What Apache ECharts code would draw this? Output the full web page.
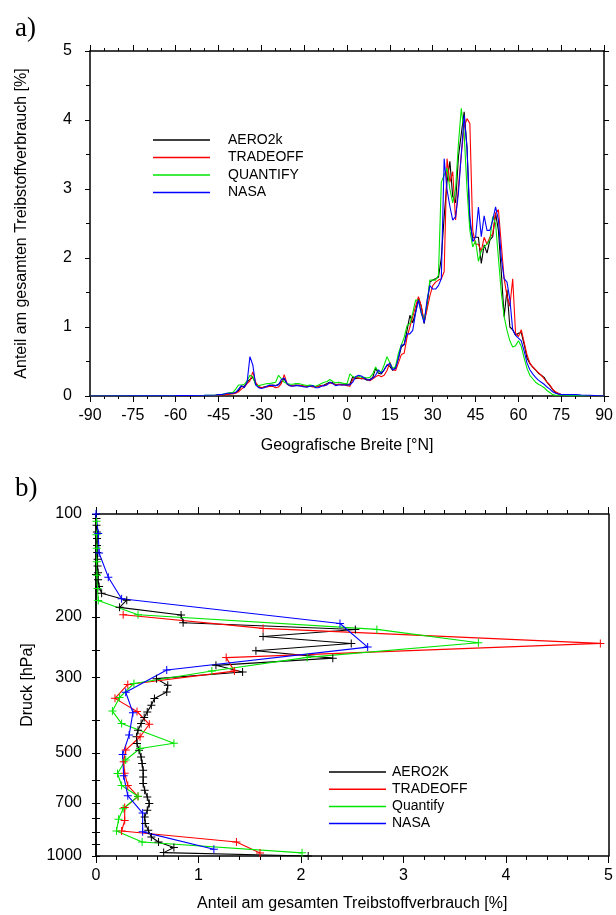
<!DOCTYPE html>
<html><head><meta charset="utf-8">
<script src="https://cdn.jsdelivr.net/npm/echarts@6/dist/echarts.min.js"></script>
<style>html,body{margin:0;padding:0;background:#fff}#c{width:616px;height:915px}</style>
</head><body><div id="c"></div>
<script>
// ---------- Panel a: fuel share by latitude ----------
const latitudes = [-90, -75, -60, -50, -46,
  -45, -44, -43, -42, -41, -40, -39, -38, -37, -36,
  -35, -34, -33, -32, -31, -30, -29, -28, -27, -26,
  -25, -24, -23, -22, -21, -20, -19, -18, -17, -16,
  -15, -14, -13, -12, -11, -10, -9, -8, -7, -6,
  -5, -4, -3, -2, -1, 0, 1, 2, 3, 4,
  5, 6, 7, 8, 9, 10, 11, 12, 13, 14,
  15, 16, 17, 18, 19, 20, 21, 22, 23, 24,
  25, 26, 27, 28, 29, 30, 31, 32, 33, 34,
  35, 36, 37, 38, 39, 40, 41, 42, 43, 44,
  45, 46, 47, 48, 49, 50, 51, 52, 53, 54,
  55, 56, 57, 58, 59, 60, 61, 62, 63, 64,
  65, 66, 67, 68, 69, 70, 71, 72, 73, 74,
  75, 76, 78, 80, 82, 85, 90];

const aero2kLatValues = [0, 0.003, 0.005, 0.008, 0.01,
  0.015, 0.02, 0.02, 0.03, 0.03, 0.04, 0.05, 0.08, 0.14, 0.14,
  0.2, 0.24, 0.27, 0.18, 0.13, 0.12, 0.13, 0.14, 0.15, 0.16,
  0.15, 0.17, 0.2, 0.25, 0.17, 0.15, 0.15, 0.16, 0.15, 0.15,
  0.14, 0.13, 0.15, 0.14, 0.13, 0.14, 0.15, 0.16, 0.18, 0.2,
  0.19, 0.16, 0.17, 0.17, 0.17, 0.17, 0.17, 0.28, 0.25, 0.26,
  0.25, 0.25, 0.23, 0.24, 0.27, 0.4, 0.33, 0.32, 0.38, 0.45,
  0.43, 0.37, 0.42, 0.55, 0.71, 0.75, 0.95, 1.17, 1.06, 1.22,
  1.42, 1.3, 1.05, 1.3, 1.65, 1.68, 1.7, 1.72, 2.0, 2.6,
  3.1, 3.4, 2.89, 2.8, 3.47, 3.8, 4.12, 3.6, 2.5, 2.29,
  2.3, 2.3, 1.92, 2.19, 2.07, 2.26, 2.31, 2.65, 2.4, 1.8,
  1.15, 1.54, 1.0, 0.96, 0.88, 0.91, 0.92, 0.75, 0.55, 0.47,
  0.42, 0.38, 0.33, 0.3, 0.27, 0.2, 0.15, 0.09, 0.05, 0.03,
  0.02, 0.015, 0.01, 0.01, 0.008, 0.005, 0];

const tradeoffLatValues = [0, 0.003, 0.005, 0.008, 0.01,
  0.012, 0.015, 0.02, 0.02, 0.03, 0.03, 0.04, 0.06, 0.1, 0.13,
  0.18, 0.22, 0.35, 0.2, 0.14, 0.12, 0.13, 0.13, 0.14, 0.14,
  0.12, 0.13, 0.18, 0.31, 0.18, 0.15, 0.15, 0.15, 0.16, 0.15,
  0.14, 0.14, 0.14, 0.13, 0.13, 0.14, 0.15, 0.15, 0.17, 0.19,
  0.18, 0.16, 0.17, 0.16, 0.16, 0.15, 0.14, 0.24, 0.27, 0.26,
  0.25, 0.26, 0.24, 0.22, 0.25, 0.28, 0.3, 0.28, 0.3, 0.37,
  0.49, 0.38, 0.37, 0.48, 0.6, 0.62, 0.85, 1.0, 1.15, 1.3,
  1.44, 1.3, 1.08, 1.25, 1.45, 1.6, 1.65, 1.68, 1.7, 1.8,
  3.44, 3.1, 3.25, 2.55, 3.03, 3.5, 3.9, 4.02, 3.95, 2.4,
  2.2, 2.2, 2.1, 2.3, 2.2, 2.3, 2.35, 2.65, 2.7, 2.2,
  1.7, 1.45, 1.3, 1.7, 0.91, 0.86, 0.96, 0.78, 0.6, 0.48,
  0.42, 0.38, 0.34, 0.3, 0.25, 0.2, 0.16, 0.1, 0.06, 0.04,
  0.02, 0.015, 0.01, 0.01, 0.008, 0.005, 0];

const quantifyLatValues = [0, 0.003, 0.005, 0.01, 0.015,
  0.02, 0.02, 0.03, 0.04, 0.05, 0.05, 0.1, 0.16, 0.16, 0.17,
  0.22, 0.3, 0.28, 0.16, 0.15, 0.16, 0.17, 0.18, 0.18, 0.19,
  0.2, 0.3, 0.25, 0.2, 0.18, 0.17, 0.17, 0.18, 0.18, 0.17,
  0.16, 0.15, 0.16, 0.15, 0.14, 0.16, 0.18, 0.2, 0.21, 0.24,
  0.21, 0.19, 0.2, 0.19, 0.18, 0.18, 0.32, 0.28, 0.27, 0.29,
  0.27, 0.27, 0.26, 0.27, 0.32, 0.42, 0.35, 0.35, 0.45, 0.57,
  0.48, 0.4, 0.43, 0.62, 0.74, 0.85, 1.02, 1.05, 1.2, 1.39,
  1.39, 1.2, 1.1, 1.34, 1.68, 1.68, 1.68, 1.75, 3.1, 3.2,
  3.3, 3.0, 2.8, 3.0, 3.66, 4.17, 3.8, 3.0, 2.4, 2.16,
  2.25, 1.95, 2.1, 2.16, 2.2, 2.26, 2.6, 2.5, 2.0, 1.5,
  1.15, 0.95, 0.8, 0.71, 0.73, 0.8, 0.72, 0.55, 0.4, 0.3,
  0.25, 0.2, 0.17, 0.15, 0.12, 0.08, 0.05, 0.02, 0.01, 0.01,
  0.01, 0.01, 0.005, 0.005, 0.005, 0.003, 0];

const nasaLatValues = [0, 0.003, 0.005, 0.01, 0.015,
  0.02, 0.02, 0.03, 0.04, 0.04, 0.04, 0.05, 0.1, 0.15, 0.12,
  0.2, 0.57, 0.45, 0.16, 0.12, 0.11, 0.12, 0.14, 0.16, 0.15,
  0.15, 0.16, 0.24, 0.26, 0.18, 0.15, 0.14, 0.15, 0.15, 0.14,
  0.13, 0.13, 0.14, 0.15, 0.12, 0.12, 0.14, 0.15, 0.16, 0.2,
  0.18, 0.15, 0.16, 0.16, 0.16, 0.16, 0.16, 0.2, 0.28, 0.3,
  0.29, 0.26, 0.24, 0.23, 0.26, 0.3, 0.38, 0.33, 0.38, 0.45,
  0.47, 0.38, 0.4, 0.55, 0.74, 0.74, 0.9, 0.9, 0.95, 1.2,
  1.39, 1.2, 1.06, 1.39, 1.6, 1.55, 1.55, 1.6, 1.7, 3.44,
  2.99, 2.75, 2.55, 2.6, 2.94, 3.5, 4.07, 3.6, 2.6, 2.24,
  2.3, 2.74, 2.31, 2.61, 2.4, 2.4, 2.55, 2.74, 2.55, 2.0,
  1.7, 1.65, 1.4, 0.96, 0.88, 0.84, 0.8, 0.65, 0.48, 0.38,
  0.32, 0.27, 0.23, 0.2, 0.17, 0.13, 0.1, 0.06, 0.04, 0.03,
  0.02, 0.02, 0.02, 0.02, 0.015, 0.01, 0];

const latSeriesNames = ['AERO2k', 'TRADEOFF', 'QUANTIFY', 'NASA'];

// ---------- Panel b: fuel share by pressure level ----------
const aero2kPressure = [103, 107.8, 112.8, 118, 123.7, 129.5, 135.6, 142, 148.6, 155.6,
  163, 170.6, 178.7, 187.5, 197.3, 207.9, 217.6, 228.2, 239.1, 251.2,
  263.9, 277, 289.6, 303, 317, 331.6, 346.2, 362.2, 379, 393.6,
  409.8, 428.6, 448.4, 469, 490.6, 513.3, 536.6, 561.4, 587.3, 614,
  642.3, 672, 702.6, 735, 768.8, 803.9, 841, 879.8, 910, 944.9,
  977.5, 1000];
const aero2kShare = [0.005, 0.005, 0.008, 0.01, 0.01, 0.012, 0.015, 0.015, 0.02, 0.02,
  0.03, 0.055, 0.3, 0.23, 0.83, 0.85, 2.53, 1.63, 2.49, 1.56,
  2.31, 1.17, 1.43, 0.59, 0.70, 0.69, 0.57, 0.54, 0.50, 0.47,
  0.44, 0.41, 0.395, 0.40, 0.42, 0.44, 0.45, 0.46, 0.46, 0.46,
  0.475, 0.50, 0.52, 0.50, 0.475, 0.48, 0.51, 0.54, 0.61, 0.76,
  0.66, 2.07];

const tradeoffPressure = [197, 216, 239, 263, 288, 315, 346, 378, 412, 448,
  490, 530, 573, 622, 670, 722, 787, 845, 910, 980];
const tradeoffShare = [0.265, 1.63, 4.92, 1.27, 1.35, 0.31, 0.185, 0.40, 0.52, 0.43,
  0.29, 0.27, 0.28, 0.31, 0.41, 0.28, 0.28, 0.25, 1.37, 1.60];

const quantifyPressure = [105, 115, 126, 138, 151, 165, 179, 197, 217.5, 238,
  262.6, 287.7, 313, 344, 377, 410, 468, 485, 524, 574,
  622, 669, 727, 781, 845, 910, 979];
const quantifyShare = [0.005, 0.005, 0.008, 0.008, 0.01, 0.015, 0.022, 0.41, 2.74, 3.73,
  2.06, 1.13, 0.37, 0.23, 0.16, 0.25, 0.76, 0.43, 0.29, 0.21,
  0.25, 0.41, 0.265, 0.22, 0.20, 0.45, 2.01];

const nasaPressure = [100, 114, 130, 153, 177, 209, 245, 286, 332, 381,
  443, 505, 583, 666, 749, 850, 956];
const nasaShare = [0.0, 0.022, 0.03, 0.12, 0.25, 2.38, 2.65, 0.69, 0.29, 0.36,
  0.323, 0.26, 0.27, 0.31, 0.455, 0.455, 1.15];

const pressureSeriesNames = ['AERO2K', 'TRADEOFF', 'Quantify', 'NASA'];
const pressureLabelTicks = [100, 200, 300, 500, 700, 1000];
const pressureTickLevels = [100, 150, 200, 250, 300, 400, 500, 600, 700, 775, 850, 925, 1000];

// ---------- styling ----------
const colors = ['#000000', '#ff0000', '#00e600', '#0000ff'];
const FONT = 'Liberation Sans, Arial, sans-serif';
const axisLineStyle = { color: '#000', width: 1.5 };
const plusSymbol = 'path://M3.5,0H4.5V3.5H8V4.5H4.5V8H3.5V4.5H0V3.5H3.5Z';

const latValueSets = [aero2kLatValues, tradeoffLatValues, quantifyLatValues, nasaLatValues];
const presSets = [[aero2kPressure, aero2kShare], [tradeoffPressure, tradeoffShare],
  [quantifyPressure, quantifyShare], [nasaPressure, nasaShare]];

const series = [];
latValueSets.forEach((vals, i) => {
  series.push({
    name: latSeriesNames[i], type: 'line', xAxisIndex: 0, yAxisIndex: 0,
    showSymbol: false, symbol: 'none', animation: false,
    lineStyle: { color: colors[i], width: 1.1 }, itemStyle: { color: colors[i] },
    data: latitudes.map((l, k) => [l, vals[k]])
  });
});
presSets.forEach((ps, i) => {
  series.push({
    name: pressureSeriesNames[i], type: 'line', xAxisIndex: 2, yAxisIndex: 2,
    symbol: plusSymbol, symbolSize: 8, showSymbol: true, animation: false,
    lineStyle: { color: colors[i], width: 1.1 }, itemStyle: { color: colors[i] },
    data: ps[0].map((p, k) => [ps[1][k], p])
  });
});

const baseAxis = {
  axisLine: { show: true, onZero: false, lineStyle: axisLineStyle },
  splitLine: { show: false },
  axisLabel: { color: '#000', fontSize: 16, fontFamily: FONT },
  nameTextStyle: { color: '#000', fontSize: 16, fontFamily: FONT },
};
function ax(extra) { return Object.assign({}, JSON.parse(JSON.stringify(baseAxis)), extra); }
function legendData(names) {
  return names.map((n, i) => ({ name: n, icon: 'rect', itemStyle: { color: colors[i], borderWidth: 0 } }));
}

const option = {
  animation: false,
  backgroundColor: '#fff',
  title: [
    { text: 'a)', left: 10, top: 10, textStyle: { fontFamily: 'Liberation Serif, Times New Roman, serif', fontSize: 27, fontWeight: 'normal', color: '#000' } },
    { text: 'b)', left: 10, top: 470, textStyle: { fontFamily: 'Liberation Serif, Times New Roman, serif', fontSize: 27, fontWeight: 'normal', color: '#000' } }
  ],
  grid: [
    { left: 90, top: 51, width: 517, height: 345 },
    { left: 96, top: 514, width: 514, height: 342 }
  ],
  legend: [
    { data: legendData(latSeriesNames), orient: 'vertical', left: 148, top: 128, itemWidth: 57, itemHeight: 1.5, itemGap: 3.5,
      textStyle: { fontSize: 14, fontFamily: FONT, color: '#000', padding: [0, 0, 0, 13] } },
    { data: legendData(pressureSeriesNames), orient: 'vertical', left: 324, top: 760, itemWidth: 57, itemHeight: 1.5, itemGap: 3.2,
      textStyle: { fontSize: 14, fontFamily: FONT, color: '#000', padding: [0, 0, 0, 1] } }
  ],
  xAxis: [
    ax({ gridIndex: 0, type: 'value', position: 'bottom', min: -90, max: 90, interval: 15,
      axisTick: { show: true, length: 6, lineStyle: { color: '#000' } },
      minorTick: { show: true, splitNumber: 3, length: 3, lineStyle: { color: '#000' } },
      axisLabel: { color: '#000', fontSize: 16, fontFamily: FONT, margin: 12 },
      name: 'Geografische Breite [°N]', nameLocation: 'middle', nameGap: 42 }),
    ax({ gridIndex: 0, type: 'value', position: 'top', min: -90, max: 90, interval: 15,
      axisTick: { show: true, length: 6, lineStyle: { color: '#000' } },
      minorTick: { show: true, splitNumber: 3, length: 3, lineStyle: { color: '#000' } },
      axisLabel: { show: false } }),
    ax({ gridIndex: 1, type: 'value', position: 'bottom', min: 0, max: 5, interval: 1,
      axisTick: { show: true, length: 7, lineStyle: { color: '#000' } },
      minorTick: { show: true, splitNumber: 5, length: 4, lineStyle: { color: '#000' } },
      axisLabel: { color: '#000', fontSize: 16, fontFamily: FONT, margin: 12 },
      name: 'Anteil am gesamten Treibstoffverbrauch [%]', nameLocation: 'middle', nameGap: 40 }),
    ax({ gridIndex: 1, type: 'value', position: 'top', min: 0, max: 5, interval: 1,
      axisTick: { show: true, length: 7, lineStyle: { color: '#000' } },
      minorTick: { show: true, splitNumber: 5, length: 4, lineStyle: { color: '#000' } },
      axisLabel: { show: false } })
  ],
  yAxis: [
    ax({ gridIndex: 0, type: 'value', position: 'left', min: 0, max: 5, interval: 1,
      axisTick: { show: true, length: 5, lineStyle: { color: '#000' } },
      minorTick: { show: true, splitNumber: 2, length: 4, lineStyle: { color: '#000' } },
      axisLabel: { color: '#000', fontSize: 16, fontFamily: FONT, margin: 18 },
      name: 'Anteil am gesamten Treibstoffverbrauch [%]', nameLocation: 'middle', nameGap: 60 }),
    ax({ gridIndex: 0, type: 'value', position: 'right', min: 0, max: 5, interval: 1,
      axisTick: { show: true, length: 5, lineStyle: { color: '#000' } },
      minorTick: { show: true, splitNumber: 2, length: 4, lineStyle: { color: '#000' } },
      axisLabel: { show: false } }),
    ax({ gridIndex: 1, type: 'log', logBase: 10, position: 'left', min: 100, max: 1000, inverse: true,
      axisTick: { show: true, length: 4, customValues: pressureTickLevels, lineStyle: { color: '#000' } },
      axisLabel: { color: '#000', fontSize: 16, fontFamily: FONT, margin: 14, customValues: pressureLabelTicks,
        formatter: v => String(Math.round(v)) },
      name: 'Druck [hPa]', nameLocation: 'middle', nameGap: 60 }),
    ax({ gridIndex: 1, type: 'log', logBase: 10, position: 'left', min: 100, max: 1000, inverse: true,
      axisTick: { show: true, inside: true, length: 4, customValues: pressureTickLevels, lineStyle: { color: '#000' } },
      axisLabel: { show: false } }),
    ax({ gridIndex: 1, type: 'log', logBase: 10, position: 'right', min: 100, max: 1000, inverse: true,
      axisTick: { show: false }, axisLabel: { show: false } })
  ],
  series: series
};

const chart = echarts.init(document.getElementById('c'), null, { renderer: 'canvas' });
chart.setOption(option);
</script>
</body></html>
